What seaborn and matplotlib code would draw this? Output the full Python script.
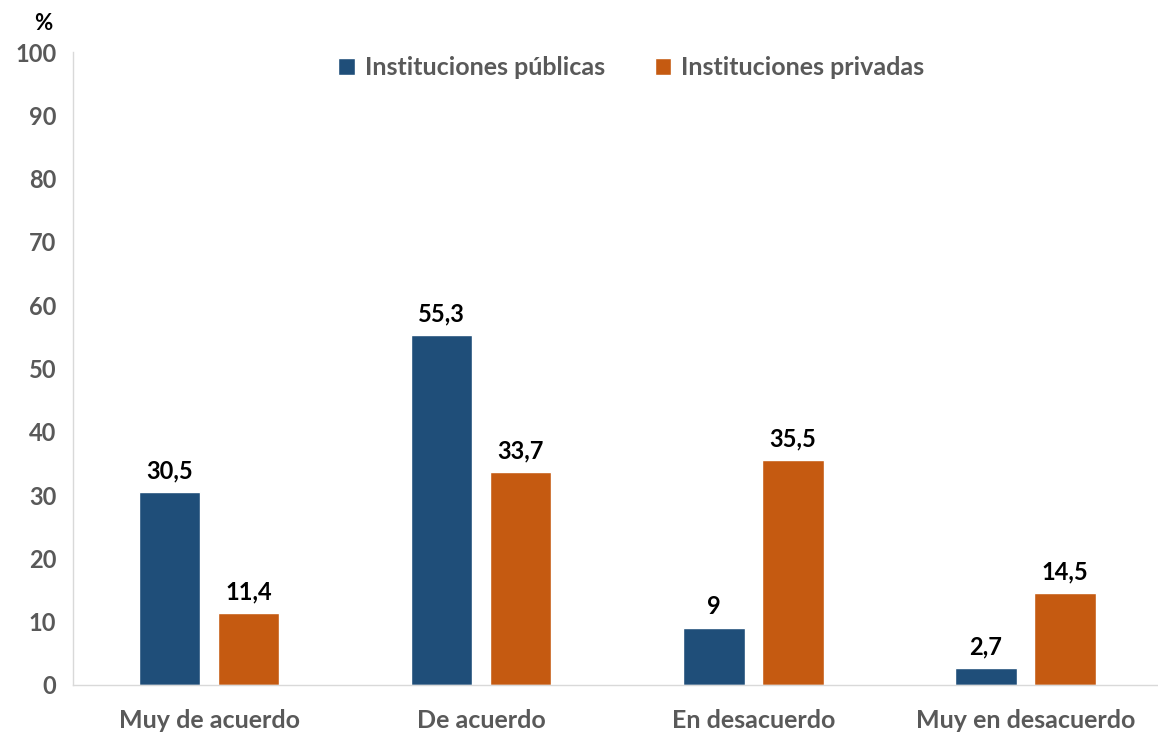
import numpy as np
import pandas as pd
import matplotlib.pyplot as plt
import seaborn as sns

# datos
categorias = ["Muy de acuerdo", "De acuerdo", "En desacuerdo", "Muy en desacuerdo"]
publicas = [30.5, 55.3, 9, 2.7]
privadas = [11.4, 33.7, 35.5, 14.5]
series = ["Instituciones públicas", "Instituciones privadas"]
etiquetas_y = [0, 10, 20, 30, 40, 50, 60, 70, 80, 90, 100]

df = pd.DataFrame({
    "cat": categorias * 2,
    "serie": [series[0]] * 4 + [series[1]] * 4,
    "valor": publicas + privadas,
})

sns.set_style("white")
plt.rcParams['font.family'] = ['Lato', 'DejaVu Sans']
plt.rcParams['font.weight'] = 'bold'

fig = plt.figure(figsize=(11.58, 7.33), dpi=100)
ax = fig.add_axes([0.063, 0.0655, 0.94, 0.8635])

sns.barplot(data=df, x="cat", y="valor", hue="serie", order=categorias,
            hue_order=series, palette=["#1F4E79", "#C55A11"],
            width=0.58, gap=0.22, ax=ax, saturation=1)

def fmt(v):
    s = ("%g" % v).replace(".", ",")
    return s

for cont in ax.containers:
    ax.bar_label(cont, labels=[fmt(v) for v in cont.datavalues], padding=7,
                 fontsize=17, fontweight='bold', color='black')

ax.set_ylim(0, 100)
ax.set_xlim(-0.5, 3.5)
ax.set_yticks(etiquetas_y)
ax.set_yticklabels([str(t) for t in etiquetas_y])
ax.set_xlabel("")
ax.set_ylabel("")
ax.tick_params(axis='x', length=0, labelsize=18, labelcolor='#595959', pad=17)
ax.tick_params(axis='y', length=0, labelsize=17, labelcolor='#595959', pad=12)
for lab in ax.get_xticklabels() + ax.get_yticklabels():
    lab.set_fontweight('bold')

for s in ["top", "right"]:
    ax.spines[s].set_visible(False)
for s in ["left", "bottom"]:
    ax.spines[s].set_color('#D9D9D9')
    ax.spines[s].set_linewidth(1)

fig.text(0.037, 0.968, "%", fontsize=16, fontweight='bold', color='black',
         ha='center', va='center')

leg = ax.legend(loc='center', bbox_to_anchor=(0.513, 0.975), ncol=2,
                frameon=False, fontsize=18, handlelength=0.65, handleheight=0.65,
                columnspacing=2.0, handletextpad=0.4)
for t in leg.get_texts():
    t.set_color('#595959')
    t.set_fontweight('bold')

fig.savefig("out.png", dpi=100)
